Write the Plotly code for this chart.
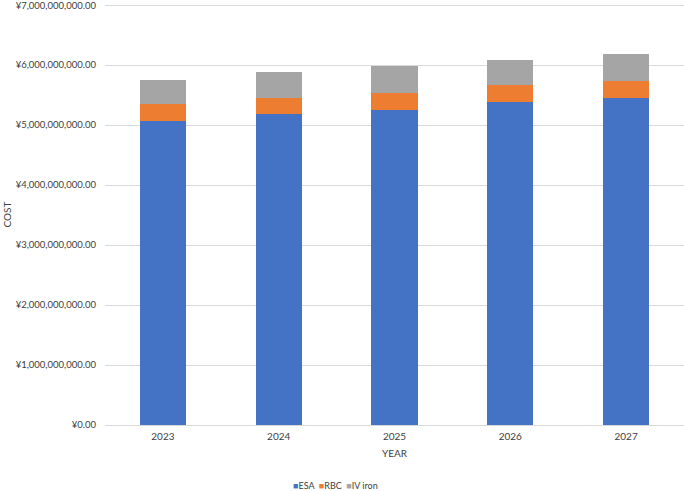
import plotly.graph_objects as go

years = ["2023", "2024", "2025", "2026", "2027"]
esa = [5.07e9, 5.18e9, 5.26e9, 5.38e9, 5.45e9]
rbc = [0.275e9, 0.275e9, 0.27e9, 0.29e9, 0.29e9]
iv_iron = [0.415e9, 0.435e9, 0.46e9, 0.42e9, 0.45e9]
tick_vals = [0, 1e9, 2e9, 3e9, 4e9, 5e9, 6e9, 7e9]
tick_text = ["¥{:,.2f}".format(v) for v in tick_vals]
series_names = ["ESA", "RBC", "IV iron"]
colors = ["#4472C4", "#ED7D31", "#A5A5A5"]

FONT = "Lato, 'Liberation Sans Narrow', sans-serif"
fig = go.Figure()
for name, vals, col in zip(series_names, [esa, rbc, iv_iron], colors):
    fig.add_trace(go.Bar(x=years, y=vals, name=name, marker=dict(color=col, line_width=0)))

legend_text = "&nbsp;&nbsp;".join(
    "<span style='color:{}'>■</span>{}".format(c, n) for n, c in zip(series_names, colors)
)

fig.update_layout(
    barmode="stack",
    bargap=0.6,
    width=685, height=491,
    margin=dict(l=105, r=1, t=4, b=66),
    paper_bgcolor="white", plot_bgcolor="white",
    font=dict(family=FONT, size=9.5, color="#404040"),
    showlegend=False,
    xaxis=dict(title=dict(text="YEAR", font=dict(size=10, color="#404040"), standoff=8),
               showline=True, linecolor="#D9D9D9", ticks="", tickfont=dict(size=10),
               ticklabelstandoff=2),
    yaxis=dict(title=dict(text="COST", font=dict(size=10, color="#404040"), standoff=2),
               range=[0, 7.02e9], tickmode="array", tickvals=tick_vals, ticktext=tick_text,
               showgrid=True, gridcolor="#D9D9D9", zeroline=False, tickfont=dict(size=9.5),
               ticklabeloverflow="allow", ticklabelstandoff=8),
    annotations=[dict(text=legend_text, xref="paper", yref="paper",
                      x=(335 - 105) / 579, y=-(485 - 425) / 421, xanchor="center", yanchor="middle",
                      showarrow=False, font=dict(size=9, color="#404040"))],
)
fig.write_html("out.html", config={"displayModeBar": False},
               post_script="document.body.style.margin='0';document.body.style.padding='0';")
